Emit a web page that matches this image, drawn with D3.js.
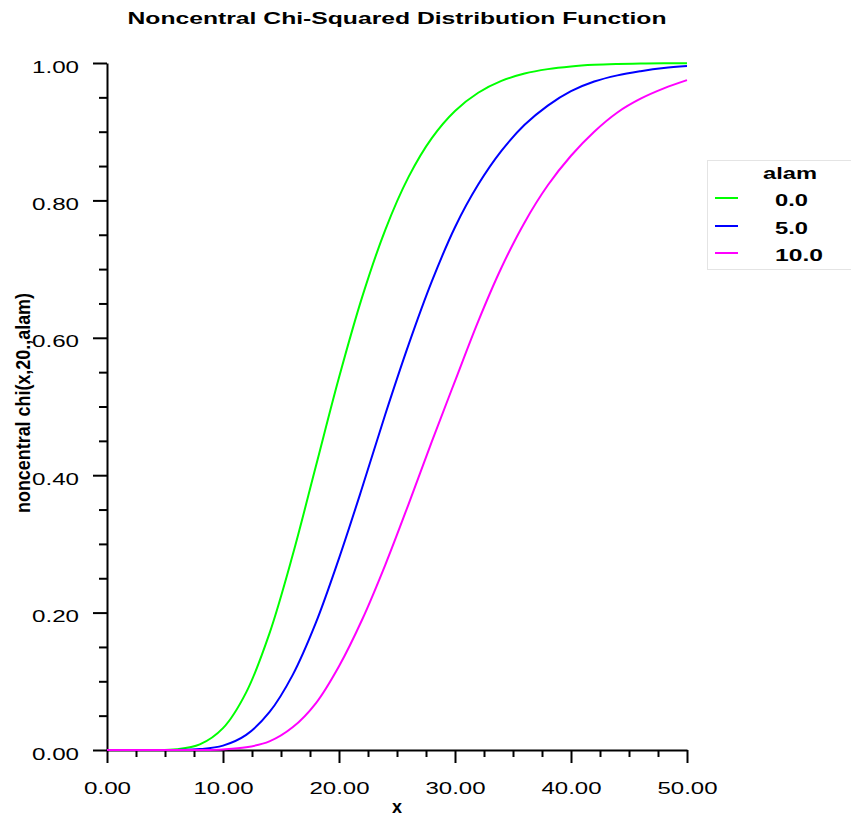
<!DOCTYPE html>
<html><head><meta charset="utf-8">
<script src="https://cdn.jsdelivr.net/npm/d3@7"></script>
<style>
html,body{margin:0;padding:0;background:#fff;}
svg{display:block;}
text{font-family:"Liberation Sans",Arial,Helvetica,sans-serif;fill:#000;}
</style></head>
<body>
<svg id="chart" width="851" height="817"></svg>
<script>
// ---- data ----
const xValues = [0,2,4,6,8,10,12,14,16,18,20,22,24,26,28,30,32,34,36,38,40,42,44,46,48,50];
const alam0  = [0,0,0.0000,0.0011,0.0081,0.0318,0.0839,0.1695,0.2834,0.4126,0.5421,0.6595,0.7576,0.8342,0.8906,0.9301,0.9567,0.9739,0.9846,0.9911,0.9950,0.9973,0.9985,0.9992,0.9996,0.9998];
const alam5  = [0,0,0,0.0001,0.0013,0.0064,0.022,0.055,0.109,0.185,0.279,0.382,0.489,0.590,0.682,0.761,0.823,0.872,0.910,0.938,0.959,0.973,0.982,0.988,0.9926,0.9955];
const alam10 = [0,0,0,0,0.0001,0.0009,0.0039,0.0125,0.033,0.068,0.122,0.190,0.270,0.358,0.449,0.537,0.624,0.702,0.768,0.822,0.865,0.900,0.928,0.948,0.963,0.975];
const seriesNames = ["0.0","5.0","10.0"];
const seriesColors = ["#00ff00","#0000ff","#ff00ff"];
const xTicks = [0,10,20,30,40,50];
const xMinorTicks = [2.5,5,7.5,12.5,15,17.5,22.5,25,27.5,32.5,35,37.5,42.5,45,47.5];
const yTicks = [0,0.2,0.4,0.6,0.8,1.0];
const yMinorTicks = [0.05,0.1,0.15,0.25,0.3,0.35,0.45,0.5,0.55,0.65,0.7,0.75,0.85,0.9,0.95];
const titleText = "Noncentral Chi-Squared Distribution Function";
const xLabel = "x";
const yLabel = "noncentral chi(x,20.,alam)";
const legendTitle = "alam";

// ---- chart ----
const svg = d3.select("#chart");
const x = d3.scaleLinear().domain([0,50]).range([107,687]);
const y = d3.scaleLinear().domain([0,1]).range([750,63]);
const fmt = d3.format(".2f");

// title
svg.append("text").attr("x",397).attr("y",24).attr("text-anchor","middle")
  .attr("font-size",17).attr("font-weight","bold")
  .attr("textLength",539).attr("lengthAdjust","spacingAndGlyphs").text(titleText);

// x axis
const gx = svg.append("g").attr("transform","translate(0,750)");
gx.call(d3.axisBottom(x).tickValues(xTicks).tickSize(13).tickSizeOuter(0).tickFormat(fmt));
gx.append("g").call(d3.axisBottom(x).tickValues(xMinorTicks).tickSize(7).tickSizeOuter(0).tickFormat(""))
  .select(".domain").remove();
gx.selectAll("path,line").attr("stroke","#000").attr("stroke-width",2);
gx.selectAll(".tick text").attr("font-size",16).attr("y",44).attr("dy",null)
  .each(function(d){ d3.select(this).attr("textLength", fmt(d).length===4?47:60).attr("lengthAdjust","spacingAndGlyphs"); });

// y axis
const gy = svg.append("g").attr("transform","translate(107,0)");
gy.call(d3.axisLeft(y).tickValues(yTicks).tickSize(14).tickSizeOuter(0).tickFormat(fmt));
gy.append("g").call(d3.axisLeft(y).tickValues(yMinorTicks).tickSize(8).tickSizeOuter(0).tickFormat(""))
  .select(".domain").remove();
gy.selectAll("path,line").attr("stroke","#000").attr("stroke-width",2);
gy.selectAll(".tick text").attr("font-size",16).attr("x",-28).attr("dy",null).attr("y",9)
  .attr("textLength",47).attr("lengthAdjust","spacingAndGlyphs");

// axis titles
svg.append("text").attr("x",397).attr("y",813).attr("text-anchor","middle")
  .attr("font-size",18).attr("font-weight","bold").text(xLabel);
svg.append("text").attr("transform","translate(30,403) rotate(-90)").attr("text-anchor","middle")
  .attr("font-size",21).attr("font-weight","bold")
  .attr("textLength",220).attr("lengthAdjust","spacingAndGlyphs").text(yLabel);

// lines
const series = [alam0, alam5, alam10];
const line = d3.line().x(d=>x(d[0])).y(d=>y(d[1])).curve(d3.curveCatmullRom.alpha(0.5));
series.forEach((vals,i)=>{
  svg.append("path").datum(xValues.map((xv,j)=>[xv,vals[j]]))
    .attr("fill","none").attr("stroke",seriesColors[i]).attr("stroke-width",2)
    .attr("d",line);
});

// legend
const lg = svg.append("g");
lg.append("rect").attr("x",707.5).attr("y",160.5).attr("width",160).attr("height",109)
  .attr("fill","#fff").attr("stroke","#e4e4e4").attr("stroke-width",1);
lg.append("text").attr("x",790).attr("y",179).attr("text-anchor","middle")
  .attr("font-size",17).attr("font-weight","bold")
  .attr("textLength",54).attr("lengthAdjust","spacingAndGlyphs").text(legendTitle);
const rowY = [198,226,253];
seriesNames.forEach((n,i)=>{
  lg.append("line").attr("x1",715).attr("x2",738).attr("y1",rowY[i]).attr("y2",rowY[i])
    .attr("stroke",seriesColors[i]).attr("stroke-width",2);
  lg.append("text").attr("x",775).attr("y",rowY[i]+8)
    .attr("font-size",17).attr("font-weight","bold")
    .attr("textLength", n.length===3?33:48).attr("lengthAdjust","spacingAndGlyphs").text(n);
});
</script>
</body></html>
